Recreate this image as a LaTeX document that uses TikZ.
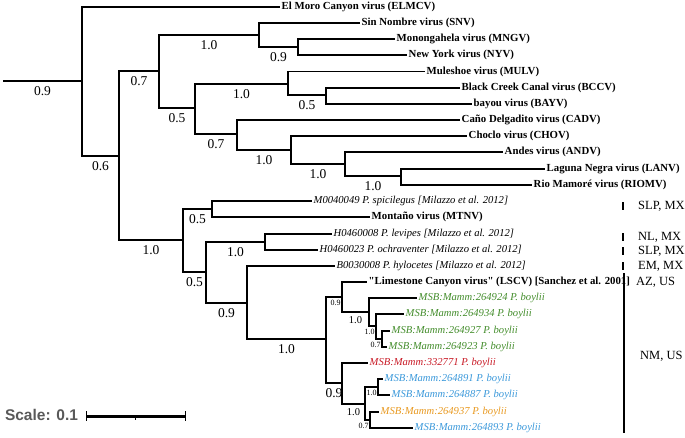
\documentclass[tikz,border=0pt]{standalone}
\usepackage{fontspec}
\setmainfont{Liberation Serif}[Ligatures=TeXOff]
\setsansfont{Liberation Sans}
\definecolor{boygreen}{RGB}{66,140,42}
\definecolor{boyred}{RGB}{200,24,36}
\definecolor{boyblue}{RGB}{58,152,218}
\definecolor{boyorange}{RGB}{232,152,30}
\tikzset{
  branch/.style={line width=1.8pt},
  virus/.style={anchor=west, inner sep=1.5pt, font=\fontsize{10.8}{12}\selectfont\bfseries},
  host/.style={anchor=west, inner sep=1.5pt, font=\fontsize{10.6}{12}\selectfont\itshape},
  blab/.style={pos=0.75, below=3.5pt, inner sep=1pt, font=\fontsize{13.5}{14}\selectfont},
  mlab/.style={pos=0.75, below=2.5pt, inner sep=1pt, font=\fontsize{10.5}{11}\selectfont},
  slab/.style={pos=1, anchor=north east, yshift=-2pt, inner sep=0.5pt, font=\fontsize{8}{9}\selectfont},
  place/.style={anchor=west, inner sep=0pt, font=\fontsize{12.5}{13}\selectfont},
  bar/.style={line width=2pt},
}
\begin{document}
\begin{tikzpicture}[x=1pt, y=-1pt]
\useasboundingbox (0,0) rectangle (685,437);
% internal nodes
\coordinate (root) at (3,81);
\coordinate (nA) at (82,81);
\coordinate (nB) at (119,156);
\coordinate (nC) at (159,71);
\coordinate (nSN) at (259,35);
\coordinate (nMN) at (298,47);
\coordinate (nD) at (195,108);
\coordinate (nMU) at (288,84);
\coordinate (nBC) at (326,95);
\coordinate (nCA) at (237,134);
\coordinate (nCH) at (291,150);
\coordinate (nAN) at (345,164);
\coordinate (nLA) at (401,176);
\coordinate (nE) at (183,240);
\coordinate (nF) at (212,209);
\coordinate (nG) at (206,272);
\coordinate (nH) at (265,242);
\coordinate (nI) at (247,303);
\coordinate (nJ) at (326,339);
\coordinate (nK) at (342,297);
\coordinate (nL) at (369,312);
\coordinate (nM) at (376,326);
\coordinate (nN) at (382,339);
\coordinate (nP) at (342,383);
\coordinate (nQ) at (365,404);
\coordinate (nR) at (378,387);
\coordinate (nS) at (370,420);
% leaves
\node[virus] (elmcv) at (280,7) {El Moro Canyon virus (ELMCV)};
\node[virus] (snv) at (360,23) {Sin Nombre virus (SNV)};
\node[virus] (mngv) at (395,39) {Monongahela virus (MNGV)};
\node[virus] (nyv) at (407,55) {New York virus (NYV)};
\node[virus] (mulv) at (425,71.5) {Muleshoe virus (MULV)};
\node[virus] (bccv) at (460,88) {Black Creek Canal virus (BCCV)};
\node[virus] (bayv) at (472,104) {bayou virus (BAYV)};
\node[virus] (cadv) at (460,120) {Caño Delgadito virus (CADV)};
\node[virus] (chov) at (467,136) {Choclo virus (CHOV)};
\node[virus] (andv) at (503,152) {Andes virus (ANDV)};
\node[virus] (lanv) at (545,169) {Laguna Negra virus (LANV)};
\node[virus] (riomv) at (532,185) {Rio Mamoré virus (RIOMV)};
\node[host] (m004) at (312,201) {M0040049 P. spicilegus [Milazzo et al. 2012]};
\node[virus] (mtnv) at (370,217) {Montaño virus (MTNV)};
\node[host] (h008) at (332,234) {H0460008 P. levipes [Milazzo et al. 2012]};
\node[host] (h023) at (318,250) {H0460023 P. ochraventer [Milazzo et al. 2012]};
\node[host] (b008) at (335,266) {B0030008 P. hylocetes [Milazzo et al. 2012]};
\node[virus] (lscv) at (367,282) {"Limestone Canyon virus" (LSCV) [Sanchez et al. 2001]};
\node[host, boygreen] (m924) at (417,298) {MSB:Mamm:264924 P. boylii};
\node[host, boygreen] (m934) at (404,314) {MSB:Mamm:264934 P. boylii};
\node[host, boygreen] (m927) at (390,331) {MSB:Mamm:264927 P. boylii};
\node[host, boygreen] (m923) at (387,347) {MSB:Mamm:264923 P. boylii};
\node[host, boyred] (m771) at (368,363) {MSB:Mamm:332771 P. boylii};
\node[host, boyblue] (m891) at (383,379) {MSB:Mamm:264891 P. boylii};
\node[host, boyblue] (m887) at (390,395) {MSB:Mamm:264887 P. boylii};
\node[host, boyorange] (m937) at (379,412) {MSB:Mamm:264937 P. boylii};
\node[host, boyblue] (m893) at (413,428) {MSB:Mamm:264893 P. boylii};
% branches
\draw[branch] (root) -- node[blab, pos=0.5] (s0) {0.9} (nA);
\draw[branch] (nA) |- (elmcv.west);
\draw[branch] (nA) |- node[blab] (s1) {0.6} (nB);
\draw[branch] (nB) |- node[blab] (s2) {0.7} (nC);
\draw[branch] (nB) |- node[blab] (s3) {1.0} (nE);
\draw[branch] (nC) |- node[blab] (s4) {1.0} (nSN);
\draw[branch] (nSN) |- (snv.west);
\draw[branch] (nSN) |- node[blab] (s5) {0.9} (nMN);
\draw[branch] (nMN) |- (mngv.west);
\draw[branch] (nMN) |- (nyv.west);
\draw[branch] (nC) |- node[blab] (s6) {0.5} (nD);
\draw[branch] (nD) |- node[blab] (s7) {1.0} (nMU);
\draw[branch] (nMU) |- (mulv.west);
\draw[branch] (nMU) |- node[blab] (s8) {0.5} (nBC);
\draw[branch] (nBC) |- (bccv.west);
\draw[branch] (nBC) |- (bayv.west);
\draw[branch] (nD) |- node[blab] (s9) {0.7} (nCA);
\draw[branch] (nCA) |- (cadv.west);
\draw[branch] (nCA) |- node[blab] (s10) {1.0} (nCH);
\draw[branch] (nCH) |- (chov.west);
\draw[branch] (nCH) |- node[blab] (s11) {1.0} (nAN);
\draw[branch] (nAN) |- (andv.west);
\draw[branch] (nAN) |- node[blab] (s12) {1.0} (nLA);
\draw[branch] (nLA) |- (lanv.west);
\draw[branch] (nLA) |- (riomv.west);
\draw[branch] (nE) |- node[blab] (s13) {0.5} (nF);
\draw[branch] (nF) |- (m004.west);
\draw[branch] (nF) |- (mtnv.west);
\draw[branch] (nE) |- node[blab] (s14) {0.5} (nG);
\draw[branch] (nG) |- node[blab] (s15) {1.0} (nH);
\draw[branch] (nH) |- (h008.west);
\draw[branch] (nH) |- (h023.west);
\draw[branch] (nG) |- node[blab] (s16) {0.9} (nI);
\draw[branch] (nI) |- (b008.west);
\draw[branch] (nI) |- node[blab] (s17) {1.0} (nJ);
\draw[branch] (nJ) |- node[slab] (s18) {0.9} (nK);
\draw[branch] (nK) |- (lscv.west);
\draw[branch] (nK) |- node[mlab] (s19) {1.0} (nL);
\draw[branch] (nL) |- (m924.west);
\draw[branch] (nL) |- node[slab] (s20) {1.0} (nM);
\draw[branch] (nM) |- (m934.west);
\draw[branch] (nM) |- node[slab] (s21) {0.7} (nN);
\draw[branch] (nN) |- (m927.west);
\draw[branch] (nN) |- (m923.west);
\draw[branch] (nJ) |- node[blab] (s22) {0.9} (nP);
\draw[branch] (nP) |- (m771.west);
\draw[branch] (nP) |- node[mlab] (s23) {1.0} (nQ);
\draw[branch] (nQ) |- node[slab] (s24) {1.0} (nR);
\draw[branch] (nR) |- (m891.west);
\draw[branch] (nR) |- (m887.west);
\draw[branch] (nQ) |- node[slab] (s25) {0.7} (nS);
\draw[branch] (nS) |- (m937.west);
\draw[branch] (nS) |- (m893.west);
% places
\node[place] (slp1) at (638,206) {SLP, MX};
\node[place] (nl) at (638,237) {NL, MX};
\node[place] (slp2) at (638,251) {SLP, MX};
\node[place] (em) at (638,266) {EM, MX};
\node[place] (az) at (636,282) {AZ, US};
\node[place] (nm) at (640,356) {NM, US};
\draw[bar] ([xshift=-15pt, yshift=4pt]slp1.west) -- ([xshift=-15pt, yshift=-4pt]slp1.west);
\draw[bar] ([xshift=-15pt, yshift=4pt]nl.west) -- ([xshift=-15pt, yshift=-4pt]nl.west);
\draw[bar] ([xshift=-15pt, yshift=4pt]slp2.west) -- ([xshift=-15pt, yshift=-4pt]slp2.west);
\draw[bar] ([xshift=-15pt, yshift=4pt]em.west) -- ([xshift=-15pt, yshift=-4pt]em.west);
\coordinate (nmtop) at (624,273);
\coordinate (nmbot) at (624,433);
\draw[line width=1.6pt] (nmtop) -- (nmbot);
% scale
\node[font=\fontsize{15.5}{16}\selectfont\sffamily\bfseries, text=black!65, inner sep=0pt] (scl) at (41.5,415) {Scale: 0.1};
\coordinate (sb0) at (86,416);
\coordinate (sbm) at (135.5,416);
\coordinate (sb1) at (185,416);
\draw[line width=3pt] (sb0) -- (sb1);
\draw[line width=0.8pt] ([yshift=5pt]sb0) -- ([yshift=-5pt]sb0);
\draw[line width=0.8pt] ([yshift=5pt]sb1) -- ([yshift=-5pt]sb1);
\draw[line width=0.8pt] (sbm) -- ([yshift=-4pt]sbm);
\end{tikzpicture}
\end{document}
